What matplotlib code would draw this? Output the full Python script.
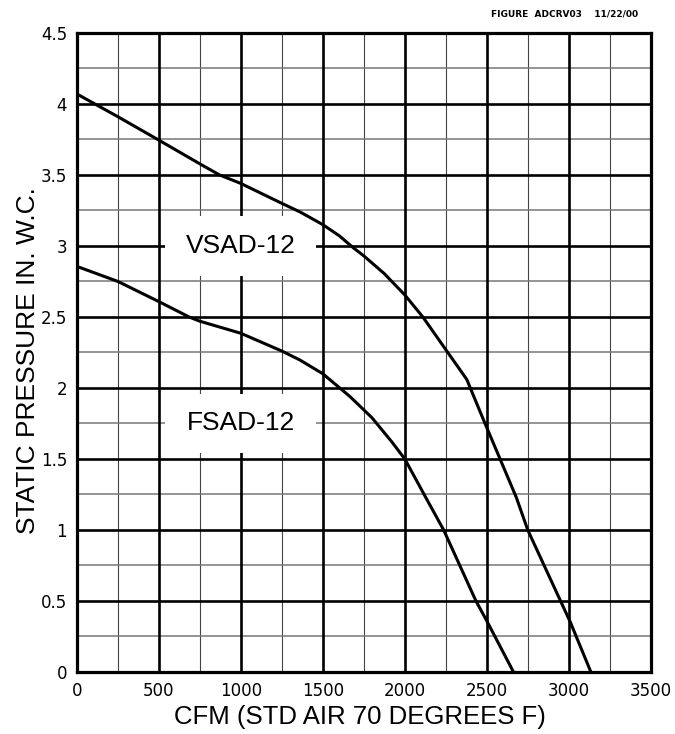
import numpy as np
import matplotlib.pyplot as plt
from matplotlib.patches import Rectangle

# Fan curves (CFM, static pressure in. W.C.)
vsad_cfm = [0, 250, 500, 750, 870, 1000, 1250, 1360, 1500, 1600, 1683, 1750,
            1875, 2000, 2110, 2250, 2378, 2482, 2680, 2750, 2950, 3010, 3135]
vsad_sp = [4.07, 3.91, 3.745, 3.578, 3.5, 3.44, 3.3, 3.24, 3.15, 3.072, 2.99, 2.93,
           2.805, 2.655, 2.5, 2.27, 2.06, 1.77, 1.23, 1.0, 0.5, 0.35, 0.0]

fsad_cfm = [0, 250, 500, 684, 750, 1000, 1250, 1360, 1500, 1665, 1800, 1921,
            2000, 2132, 2237, 2434, 2500, 2663]
fsad_sp = [2.856, 2.75, 2.608, 2.5, 2.47, 2.385, 2.26, 2.197, 2.1, 1.94, 1.79, 1.62,
           1.5, 1.22, 1.0, 0.5, 0.36, 0.0]

x_ticks = [0, 500, 1000, 1500, 2000, 2500, 3000, 3500]
y_ticks = [0, 0.5, 1, 1.5, 2, 2.5, 3, 3.5, 4, 4.5]
y_ticklabels = ["0", "0.5", "1", "1.5", "2", "2.5", "3", "3.5", "4", "4.5"]

curve_labels = ["VSAD-12", "FSAD-12"]
label_y = [3.0, 1.75]

fig = plt.figure(figsize=(6.75, 7.34), dpi=100)
ax = fig.add_axes([0.114, 0.0845, 0.850, 0.8706])

ax.set_xlim(0, 3500)
ax.set_ylim(0, 4.5)

# grid: thin minor lines every 250 / 0.25, heavy lines every 500 / 0.5
for xv in np.arange(250, 3500, 500):
    ax.axvline(xv, color="#444444", lw=0.8, zorder=1)
for yv in np.arange(0.25, 4.5, 0.5):
    ax.axhline(yv, color="#777777", lw=1.1, zorder=1)
for xv in x_ticks[1:-1]:
    ax.axvline(xv, color="black", lw=1.9, zorder=1.5)
for yv in y_ticks[1:-1]:
    ax.axhline(yv, color="black", lw=1.9, zorder=1.5)

# white boxes behind the curve names
for txt, yv in zip(curve_labels, label_y):
    ax.add_patch(Rectangle((540, yv - 0.21), 920, 0.42, facecolor="white",
                           edgecolor="none", zorder=2))
    ax.text(1000, yv, txt, ha="center", va="center", fontsize=19,
            family="Liberation Sans", zorder=3)

ax.plot(vsad_cfm, vsad_sp, color="black", lw=2.2, zorder=4)
ax.plot(fsad_cfm, fsad_sp, color="black", lw=2.2, zorder=4)

for s in ax.spines.values():
    s.set_linewidth(2.3)
    s.set_zorder(5)

ax.set_xticks(x_ticks)
ax.set_xticklabels([str(v) for v in x_ticks])
ax.set_yticks(y_ticks)
ax.set_yticklabels(y_ticklabels)
ax.tick_params(length=0, labelsize=12, pad=7)

ax.set_xlabel("CFM (STD AIR 70 DEGREES F)", fontsize=18.5, family="Liberation Sans")
ax.set_ylabel("STATIC PRESSURE IN. W.C.", fontsize=19, family="Liberation Sans")
ax.xaxis.set_label_coords(0.493, -0.052)
ax.yaxis.set_label_coords(-0.064, 0.488)

fig.text(0.945, 0.981, "FIGURE  ADCRV03    11/22/00", ha="right", va="center",
         fontsize=6.5, fontweight="bold")

fig.savefig("out.png", dpi=100)
